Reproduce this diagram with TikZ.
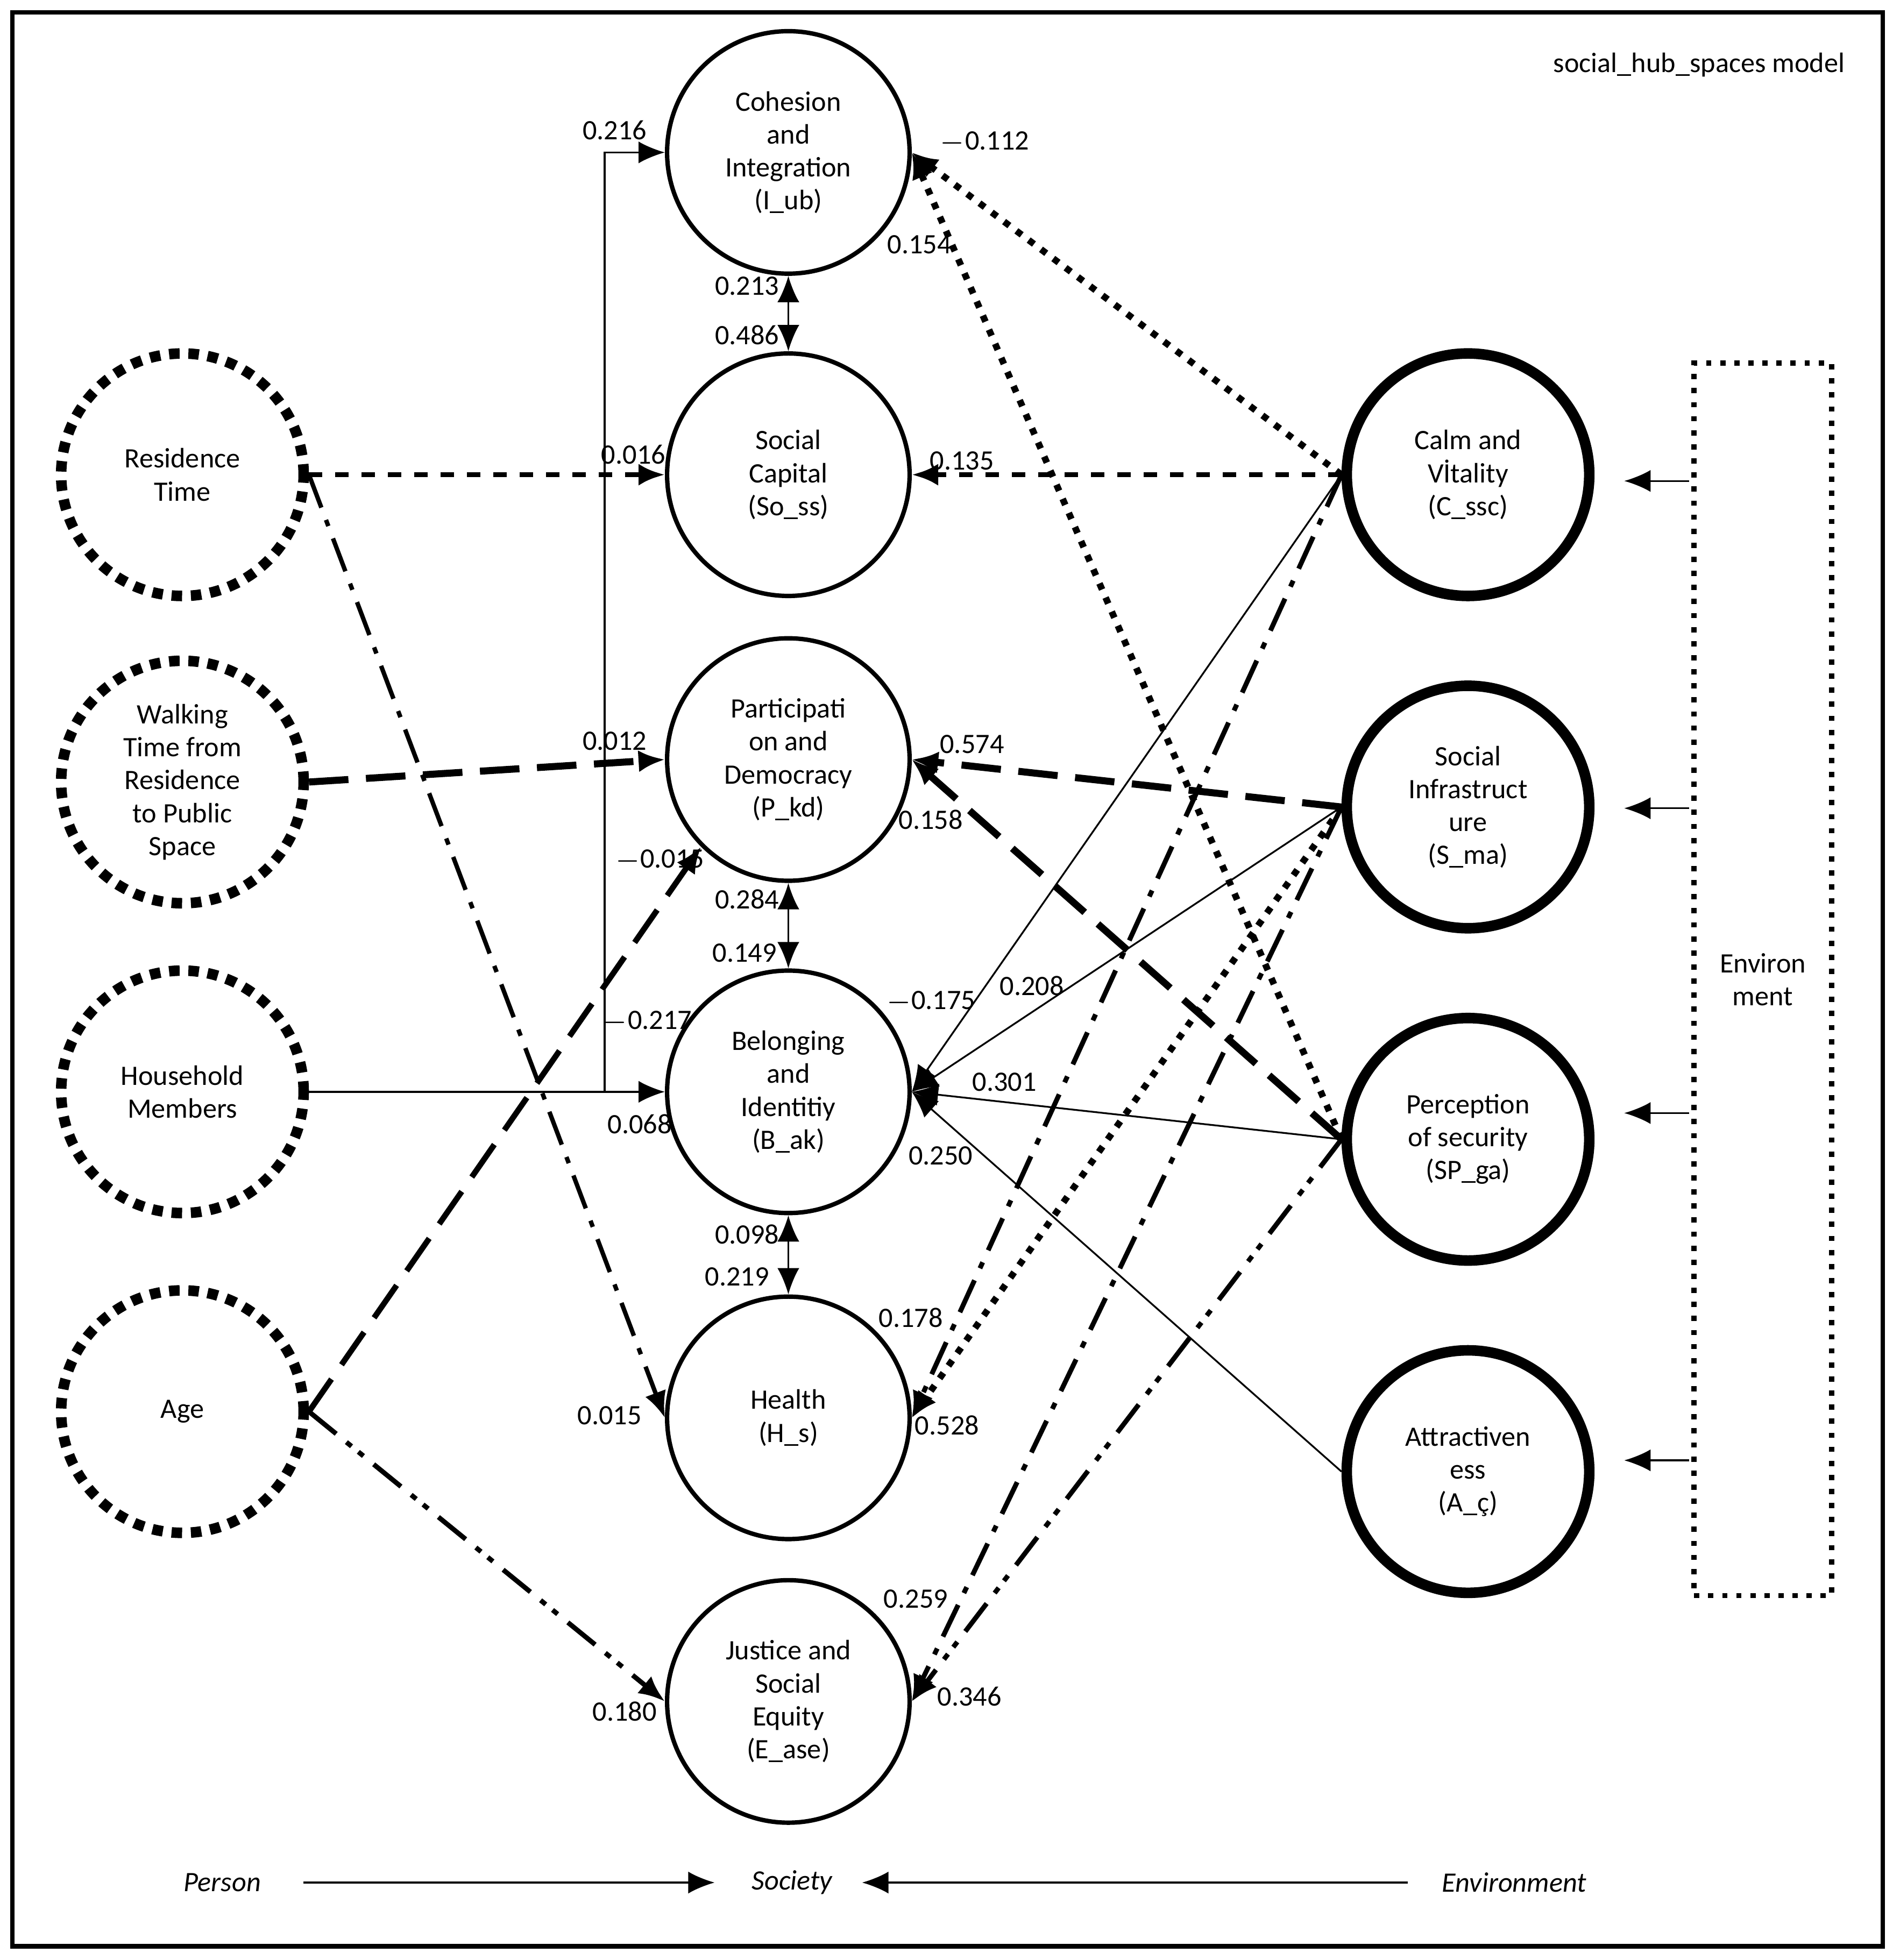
\documentclass[tikz,border=0pt]{standalone}
\usepackage{fontspec}
\setmainfont{Carlito}
\usetikzlibrary{arrows.meta,positioning}
\tikzset{
  lat/.style={circle, draw, line width=1pt, minimum size=1.94cm, align=center, inner sep=0pt},
  per/.style={lat, line width=2.4pt, dotted},
  env/.style={lat, line width=2.4pt},
  coef/.style={inner sep=1pt},
  path/.style={-{Latex[length=6pt,width=5pt]}},
}
\begin{document}
\begin{tikzpicture}[x=0.01cm, y=-0.01cm, font=\fontsize{6.4}{7.5}\selectfont]
      \useasboundingbox (0,0) rectangle (1515,1569);
      \draw[line width=1pt] (10,10) rectangle (1507,1558);
      \node (title) at (1360,52) {social\_hub\_spaces model};
      % person
      \begin{scope}
        \node[per] (rt) at (146,380) {Residence\\Time};
        \node[per] (wt) at (146,626) {Walking\\Time from\\Residence\\to Public\\Space};
        \node[per] (hm) at (146,874) {Household\\Members};
        \node[per] (ag) at (146,1130) {Age};
      \end{scope}
      % society
      \begin{scope}
        \node[lat] (ci) at (631,122) {Cohesion\\and\\Integration\\(I\_ub)};
        \node[lat] (sc) at (631,380) {Social\\Capital\\(So\_ss)};
        \node[lat] (pd) at (631,608) {Participati\\on and\\Democracy\\(P\_kd)};
        \node[lat] (bi) at (631,874) {Belonging\\and\\Identitiy\\(B\_ak)};
        \node[lat] (hs) at (631,1135) {Health\\(H\_s)};
        \node[lat] (js) at (631,1362) {Justice and\\Social\\Equity\\(E\_ase)};
      \end{scope}
      % environment
      \begin{scope}
        \node[env] (cv) at (1175,380) {Calm and\\Vİtality\\(C\_ssc)};
        \node[env] (si) at (1175,646) {Social\\Infrastruct\\ure\\(S\_ma)};
        \node[env] (ps) at (1175,912) {Perception\\of security\\(SP\_ga)};
        \node[env] (at) at (1175,1178) {Attractiven\\ess\\(A\_ç)};
      \end{scope}
      \node[draw, dotted, line width=1.2pt, minimum width=1.1cm, minimum height=9.86cm, align=center] (en) at (1411,784) {Environ\\ment};
      \foreach \n/\y in {cv/385, si/647, ps/891, at/1169} {
        \coordinate (s\n) at (1352,\y);
        \coordinate (e\n) at (1300,\y);
        \draw[path] (s\n) -- (e\n);
      }
      % person paths
      \draw[path, dashed, line width=1.2pt] (rt.east) -- (sc.west);
      \draw[path, dash pattern=on 8pt off 3pt on 1.5pt off 3pt, line width=1pt] (rt.east) -- (hs.west);
      \draw[path, dash pattern=on 9pt off 4pt, line width=1.6pt] (wt.east) -- (pd.west);
      \draw[path] (hm.east) -- (bi.west);
      \coordinate (elb) at (484,874);
      \draw[path] (elb) |- (ci.west);
      \draw[path, dash pattern=on 9pt off 4pt, line width=1.3pt] (ag.east) -- (pd.south west);
      \draw[path, dash pattern=on 8pt off 3pt on 1.5pt off 2pt on 1.5pt off 3pt, line width=1.1pt] (ag.east) -- (js.west);
      % society links
      \draw[{Latex[length=6pt,width=5pt]}-{Latex[length=6pt,width=5pt]}] (ci) -- (sc);
      \draw[{Latex[length=6pt,width=5pt]}-{Latex[length=6pt,width=5pt]}] (pd) -- (bi);
      \draw[{Latex[length=6pt,width=5pt]}-{Latex[length=6pt,width=5pt]}] (bi) -- (hs);
      % environment paths
      \draw[path, dotted, line width=1.5pt] (cv.west) -- (ci.east);
      \draw[path, dashed, line width=1.2pt] (cv.west) -- (sc.east);
      \draw[path, thin] (cv.west) -- (bi.east);
      \draw[path, dash pattern=on 8pt off 3pt on 1.5pt off 3pt, line width=1.1pt] (cv.west) -- (hs.east);
      \draw[path, dash pattern=on 9pt off 4pt, line width=1.6pt] (si.west) -- (pd.east);
      \draw[path, thin] (si.west) -- (bi.east);
      \draw[path, dash pattern=on 1.5pt off 2pt, line width=1.5pt] (si.west) -- (hs.east);
      \draw[path, dash pattern=on 8pt off 3pt on 1.5pt off 3pt, line width=1.1pt] (si.west) -- (js.east);
      \draw[path, dotted, line width=1.5pt] (ps.west) -- (ci.east);
      \draw[path, dash pattern=on 9pt off 4pt, line width=1.6pt] (ps.west) -- (pd.east);
      \draw[path, thin] (ps.west) -- (bi.east);
      \draw[path, dash pattern=on 8pt off 3pt on 1.5pt off 2pt on 1.5pt off 3pt, line width=1.1pt] (ps.west) -- (js.east);
      \draw[path, thin] (at.west) -- (bi.east);
      % coefficients
      \node[coef] (k1) at (492,104) {0.216};
      \node[coef] (k2) at (788,114) {$-$0.112};
      \node[coef] (k3) at (736,196) {0.154};
      \node[coef] (k4) at (598,229) {0.213};
      \node[coef] (k5) at (598,268) {0.486};
      \node[coef] (k6) at (507,364) {0.016};
      \node[coef] (k7) at (770,369) {0.135};
      \node[coef] (k8) at (492,593) {0.012};
      \node[coef] (k9) at (778,596) {0.574};
      \node[coef] (k10) at (745,656) {0.158};
      \node[coef] (k11) at (528,689) {$-$0.015};
      \node[coef] (k12) at (598,720) {0.284};
      \node[coef] (k13) at (596,763) {0.149};
      \node[coef] (k14) at (745,802) {$-$0.175};
      \node[coef] (k15) at (826,789) {0.208};
      \node[coef] (k16) at (518,818) {$-$0.217};
      \node[coef] (k17) at (804,866) {0.301};
      \node[coef] (k18) at (512,900) {0.068};
      \node[coef] (k19) at (753,925) {0.250};
      \node[coef] (k20) at (598,988) {0.098};
      \node[coef] (k21) at (590,1022) {0.219};
      \node[coef] (k22) at (729,1055) {0.178};
      \node[coef] (k23) at (488,1133) {0.015};
      \node[coef] (k24) at (758,1141) {0.528};
      \node[coef] (k25) at (733,1280) {0.259};
      \node[coef] (k26) at (776,1358) {0.346};
      \node[coef] (k27) at (500,1370) {0.180};
      % bottom axis
      \node (pe) at (178,1507) {\itshape Person};
      \node (so) at (634,1507) {\itshape Society};
      \node (ev) at (1212,1507) {\itshape Environment};
      \coordinate (a1) at (243,1507);
      \coordinate (a2) at (572,1507);
      \coordinate (a3) at (1127,1507);
      \coordinate (a4) at (690,1507);
      \draw[path] (a1) -- (a2);
      \draw[path] (a3) -- (a4);
\end{tikzpicture}
\end{document}
